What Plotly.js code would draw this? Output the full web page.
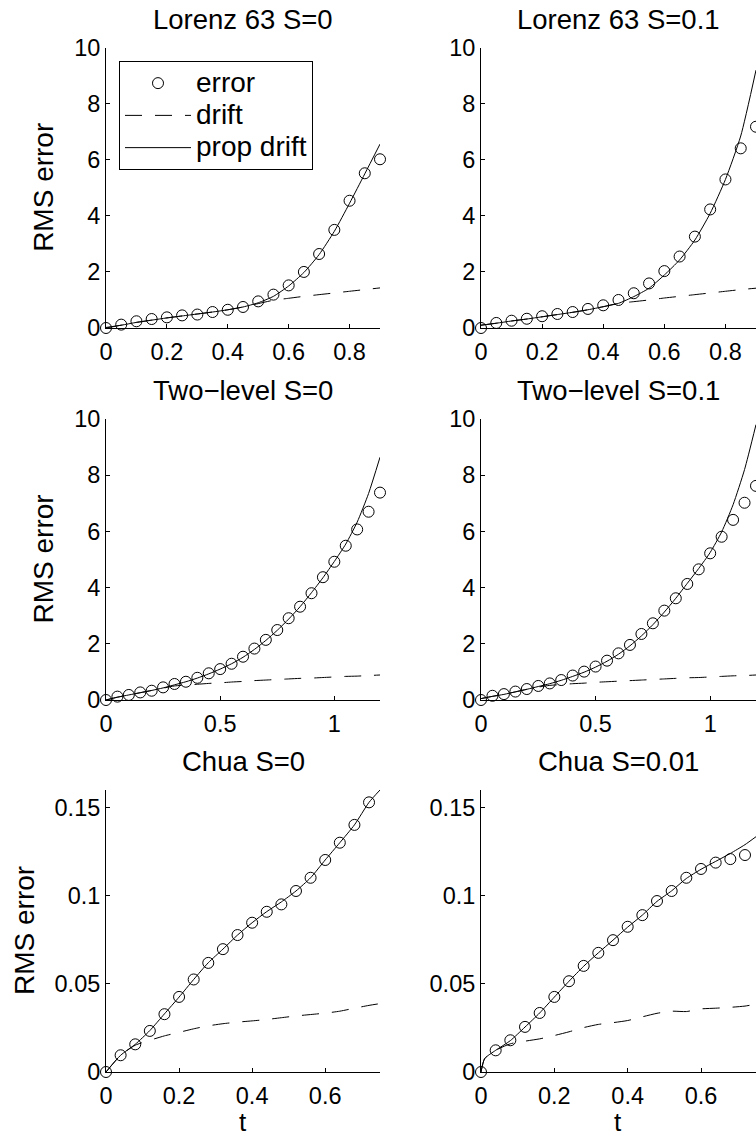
<!DOCTYPE html>
<html>
<head>
<meta charset="utf-8">
<script src="https://cdn.plot.ly/plotly-3.0.1.min.js"></script>
<style>html,body{margin:0;padding:0;background:#fff;}#chart{width:756px;height:1137px;}</style>
</head>
<body>
<div id="chart"></div>
<script>
// ---------- data ----------
const panelTitles = ["Lorenz 63 S=0", "Lorenz 63 S=0.1", "Two\u2212level S=0", "Two\u2212level S=0.1", "Chua S=0", "Chua S=0.01"];
const seriesNames = ["error", "drift", "prop drift"];
const yLabel = "RMS error";
const xLabel = "t";

// Lorenz 63
const tL63 = [0,0.05,0.1,0.15,0.2,0.25,0.3,0.35,0.4,0.45,0.5,0.55,0.6,0.65,0.7,0.75,0.8,0.85,0.9];
const errL63S0   = [0,0.12,0.24,0.32,0.38,0.45,0.48,0.57,0.65,0.75,0.95,1.19,1.52,2.0,2.64,3.5,4.54,5.52,6.02];
const driftL63S0 = [0,0.1,0.2,0.28,0.36,0.43,0.5,0.57,0.65,0.75,0.87,0.99,1.06,1.13,1.19,1.25,1.31,1.37,1.43];
const propL63S0  = [0.02,0.1,0.2,0.28,0.36,0.43,0.5,0.57,0.65,0.75,0.9,1.13,1.5,1.98,2.62,3.45,4.45,5.5,6.56];
const errL63S1   = [0,0.18,0.26,0.33,0.42,0.5,0.57,0.68,0.81,1.0,1.24,1.59,2.03,2.55,3.26,4.23,5.3,6.41,7.18];
const driftL63S1 = [0.1,0.17,0.25,0.32,0.4,0.48,0.56,0.65,0.76,0.88,0.94,1.0,1.07,1.13,1.19,1.25,1.31,1.37,1.42];
const propL63S1  = [0.1,0.17,0.25,0.32,0.4,0.48,0.56,0.65,0.76,0.88,1.12,1.42,1.89,2.43,3.14,4.09,5.3,6.85,9.2];

// Two-level
const tTL = [0,0.05,0.1,0.15,0.2,0.25,0.3,0.35,0.4,0.45,0.5,0.55,0.6,0.65,0.7,0.75,0.8,0.85,0.9,0.95,1.0,1.05,1.1,1.15,1.2];
const errTLS0   = [0,0.12,0.18,0.27,0.33,0.45,0.57,0.65,0.79,0.95,1.1,1.29,1.54,1.83,2.14,2.49,2.91,3.32,3.8,4.37,4.92,5.49,6.07,6.7,7.38];
const driftTLS0 = [0,0.1,0.18,0.26,0.34,0.42,0.5,0.53,0.56,0.59,0.61,0.64,0.66,0.69,0.71,0.73,0.75,0.77,0.78,0.8,0.82,0.84,0.85,0.87,0.89];
const propTLS0  = [0,0.1,0.18,0.26,0.34,0.43,0.54,0.65,0.78,0.93,1.1,1.29,1.52,1.8,2.12,2.48,2.88,3.32,3.82,4.35,4.93,5.55,6.33,7.35,8.64];
const errTLS1   = [0,0.15,0.21,0.3,0.39,0.5,0.59,0.71,0.87,1.01,1.19,1.4,1.66,1.96,2.35,2.73,3.18,3.62,4.13,4.65,5.22,5.81,6.41,7.02,7.62];
const driftTLS1 = [0.05,0.13,0.2,0.29,0.38,0.46,0.52,0.55,0.58,0.6,0.63,0.65,0.67,0.69,0.71,0.73,0.75,0.77,0.79,0.8,0.82,0.84,0.86,0.87,0.89];
const propTLS1  = [0.05,0.13,0.2,0.29,0.38,0.48,0.58,0.7,0.84,0.99,1.17,1.38,1.63,1.93,2.28,2.68,3.13,3.62,4.15,4.68,5.25,5.98,6.95,8.2,9.8];

// Chua
const tChuaErr = [0,0.04,0.08,0.12,0.16,0.2,0.24,0.28,0.32,0.36,0.4,0.44,0.48,0.52,0.56,0.6,0.64,0.68,0.72];
const errChuaS0 = [0,0.0095,0.0157,0.0233,0.0328,0.0426,0.0525,0.0619,0.0697,0.0777,0.0847,0.0909,0.0951,0.1027,0.1102,0.1203,0.1301,0.1402,0.153];
const tChuaS0Line = [0,0.04,0.08,0.12,0.16,0.2,0.24,0.28,0.32,0.36,0.4,0.44,0.48,0.52,0.56,0.6,0.64,0.68,0.72,0.75];
const driftChuaS0 = [0,0.0095,0.0152,0.018,0.0205,0.0225,0.0245,0.0262,0.0274,0.0283,0.029,0.0298,0.0308,0.0318,0.0326,0.0334,0.0345,0.0362,0.0378,0.0388];
const propChuaS0  = [0,0.0095,0.0157,0.0235,0.033,0.0425,0.0525,0.062,0.0697,0.0777,0.0847,0.091,0.0965,0.1027,0.1102,0.1203,0.1301,0.1402,0.153,0.16];
const errChuaS1 = [0,0.0123,0.018,0.0256,0.0335,0.0426,0.0515,0.0602,0.0676,0.0748,0.0824,0.089,0.097,0.1027,0.1102,0.1152,0.1188,0.1208,0.1231];
const tChuaS1Line = [0,0.01,0.04,0.08,0.12,0.16,0.2,0.24,0.28,0.32,0.36,0.4,0.44,0.48,0.52,0.56,0.6,0.64,0.68,0.72,0.75];
const driftChuaS1 = [0,0.0076,0.0123,0.016,0.0175,0.0188,0.0207,0.0228,0.0252,0.027,0.028,0.0292,0.0313,0.0333,0.0345,0.0343,0.0358,0.0362,0.0367,0.0374,0.0385];
const propChuaS1  = [0,0.0076,0.0123,0.0178,0.0255,0.0335,0.0425,0.0515,0.06,0.0676,0.0748,0.0822,0.089,0.0968,0.1028,0.1098,0.115,0.1195,0.124,0.129,0.1335];

// ticks
const xTicksL63 = [0,0.2,0.4,0.6,0.8];
const xTickTextL63 = ["0","0.2","0.4","0.6","0.8"];
const xTicksTL = [0,0.5,1];
const xTickTextTL = ["0","0.5","1"];
const xTicksChua = [0,0.2,0.4,0.6];
const xTickTextChua = ["0","0.2","0.4","0.6"];
const yTicksBig = [0,2,4,6,8,10];
const yTickTextBig = ["0","2","4","6","8","10"];
const yTicksChua = [0,0.05,0.1,0.15];
const yTickTextChua = ["0","0.05","0.1","0.15"];

// ---------- build ----------
const FONT = "Liberation Sans, Arial, Helvetica, sans-serif";
const W = 756, H = 1137;
const colDom = [[106/W, 380/W], [481/W, 1]];
const rowDom = [[1-328/H, 1-47.7/H], [1-700/H, 1-419/H], [1-1072/H, 1-790/H]];
const yLabelX = [44, 43, 24];

const panels = [
  {t: tL63, err: errL63S0, tl: tL63, drift: driftL63S0, prop: propL63S0, xr:[0,0.9], xt:xTicksL63, xtt:xTickTextL63, yr:[0,10], yt:yTicksBig, ytt:yTickTextBig},
  {t: tL63, err: errL63S1, tl: tL63, drift: driftL63S1, prop: propL63S1, xr:[0,0.9], xt:xTicksL63, xtt:xTickTextL63, yr:[0,10], yt:yTicksBig, ytt:yTickTextBig},
  {t: tTL, err: errTLS0, tl: tTL, drift: driftTLS0, prop: propTLS0, xr:[0,1.2], xt:xTicksTL, xtt:xTickTextTL, yr:[0,10], yt:yTicksBig, ytt:yTickTextBig},
  {t: tTL, err: errTLS1, tl: tTL, drift: driftTLS1, prop: propTLS1, xr:[0,1.2], xt:xTicksTL, xtt:xTickTextTL, yr:[0,10], yt:yTicksBig, ytt:yTickTextBig},
  {t: tChuaErr, err: errChuaS0, tl: tChuaS0Line, drift: driftChuaS0, prop: propChuaS0, xr:[0,0.75], xt:xTicksChua, xtt:xTickTextChua, yr:[0,0.16], yt:yTicksChua, ytt:yTickTextChua},
  {t: tChuaErr, err: errChuaS1, tl: tChuaS1Line, drift: driftChuaS1, prop: propChuaS1, xr:[0,0.75], xt:xTicksChua, xtt:xTickTextChua, yr:[0,0.16], yt:yTicksChua, ytt:yTickTextChua}
];

const legName = s => '<span style="font-size:28px">' + s + '</span>';

const data = [];
const layout = {
  width: W, height: H,
  margin: {l:0, r:0, t:0, b:0},
  paper_bgcolor: "#fff", plot_bgcolor: "#fff",
  font: {family: FONT, color: "#000", size: 23},
  showlegend: true,
  legend: {x: 119/W, y: 1-61/H, xanchor: "left", yanchor: "top", bordercolor: "#000", borderwidth: 1,
           bgcolor: "#fff", font: {family: FONT, size: 22.5, color: "#000"}, itemwidth: 66, tracegroupgap: 0},
  annotations: []
};

panels.forEach((p, i) => {
  const n = i + 1;
  const xa = n === 1 ? "x" : "x" + n;
  const ya = n === 1 ? "y" : "y" + n;
  const row = Math.floor(i / 2), col = i % 2;
  const first = i === 0;
  data.push({x: p.tl, y: p.drift, xaxis: xa, yaxis: ya, type: "scatter", mode: "lines", name: legName(seriesNames[1]),
             line: {color: "#000", width: 1, dash: "17px,13px", shape: "spline", smoothing: 0.6},
             showlegend: first, legendrank: 2, hoverinfo: "skip"});
  data.push({x: p.tl, y: p.prop, xaxis: xa, yaxis: ya, type: "scatter", mode: "lines", name: legName(seriesNames[2]),
             line: {color: "#000", width: 1, shape: "spline", smoothing: 0.6},
             showlegend: first, legendrank: 3, hoverinfo: "skip"});
  data.push({x: p.t, y: p.err, xaxis: xa, yaxis: ya, type: "scatter", mode: "markers", name: legName(seriesNames[0]),
             marker: {symbol: "circle-open", size: 11, color: "#000", line: {width: 1, color: "#000"}},
             cliponaxis: false, showlegend: first, legendrank: 1, hoverinfo: "skip"});

  const axCommon = {showgrid: false, zeroline: false, showline: true, linecolor: "#000", linewidth: 1,
                    ticks: "inside", ticklen: 4, tickwidth: 1, tickcolor: "#000", mirror: false,
                    tickfont: {family: FONT, size: 23.5, color: "#000"}, fixedrange: true};
  layout[n === 1 ? "xaxis" : "xaxis" + n] = Object.assign({}, axCommon, {
    domain: colDom[col], range: p.xr, anchor: ya, tickmode: "array", tickvals: p.xt, ticktext: p.xtt, ticklabelstandoff: 3});
  layout[n === 1 ? "yaxis" : "yaxis" + n] = Object.assign({}, axCommon, {
    domain: rowDom[row], range: p.yr, anchor: xa, tickmode: "array", tickvals: p.yt, ticktext: p.ytt});

  const cx = (colDom[col][0] + colDom[col][1]) / 2;
  const cxTitle = col === 0 ? cx : (481 + 274/2) / W;
  layout.annotations.push({text: panelTitles[i], x: cxTitle, y: rowDom[row][1], xref: "paper", yref: "paper",
    xanchor: "center", yanchor: "bottom", yshift: 11, showarrow: false, font: {family: FONT, size: 27.5, color: "#000"}});
  if (col === 0) {
    layout.annotations.push({text: yLabel, x: yLabelX[row]/W, y: (rowDom[row][0] + rowDom[row][1]) / 2, xref: "paper", yref: "paper",
      xanchor: "center", yanchor: "middle", textangle: -90, showarrow: false, font: {family: FONT, size: 28, color: "#000"}});
  }
  if (row === 2) {
    layout.annotations.push({text: xLabel, x: cxTitle, y: 0, xref: "paper", yref: "paper",
      xanchor: "center", yanchor: "bottom", yshift: -2, showarrow: false, font: {family: FONT, size: 26, color: "#000"}});
  }
});

Plotly.newPlot("chart", data, layout, {staticPlot: true, displayModeBar: false});
</script>
</body>
</html>
